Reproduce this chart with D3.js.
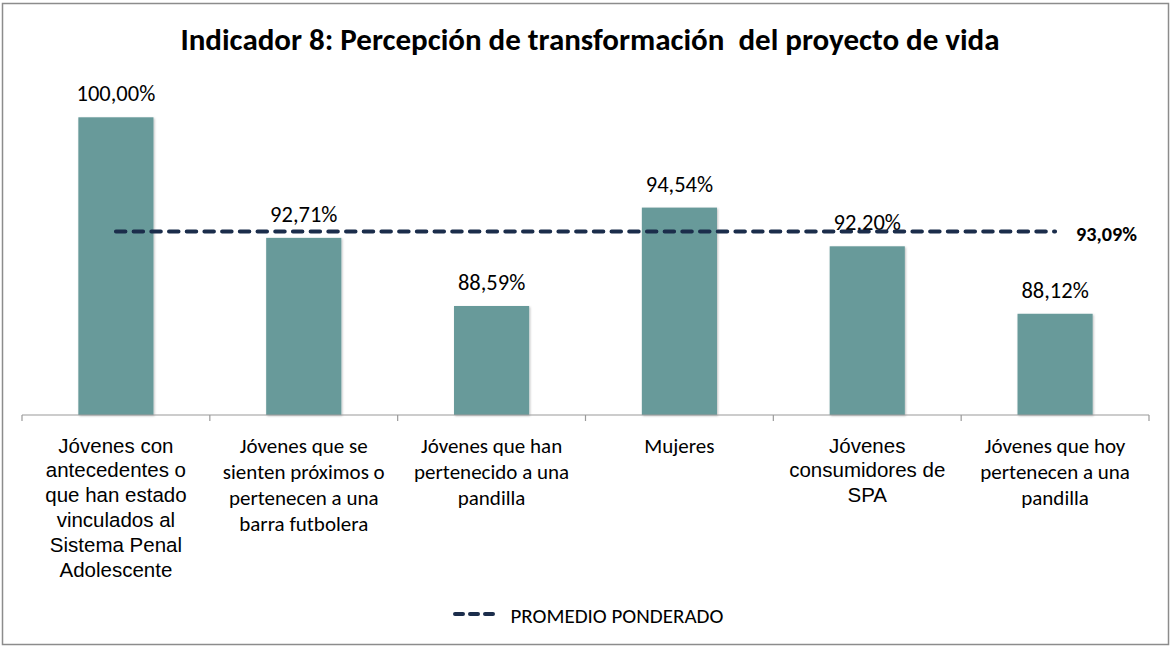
<!DOCTYPE html>
<html>
<head>
<meta charset="utf-8">
<script src="https://cdn.jsdelivr.net/npm/d3@7"></script>
<style>
  html, body { margin: 0; padding: 0; background: #fff; }
  svg { display: block; }
</style>
</head>
<body>
<svg id="chart" width="1171" height="648"></svg>
<script>
const title = "Indicador 8: Percepción de transformación  del proyecto de vida";
const categories = [
  "Jóvenes con\nantecedentes o\nque han estado\nvinculados al\nSistema Penal\nAdolescente",
  "Jóvenes que se\nsienten próximos o\npertenecen a una\nbarra futbolera",
  "Jóvenes que han\npertenecido a una\npandilla",
  "Mujeres",
  "Jóvenes\nconsumidores de\nSPA",
  "Jóvenes que hoy\npertenecen a una\npandilla"
];
const narrowLabel = [true, false, false, false, true, false];
const values = [100.00, 92.71, 88.59, 94.54, 92.20, 88.12];
const valueLabels = ["100,00%", "92,71%", "88,59%", "94,54%", "92,20%", "88,12%"];
const average = 93.09;
const averageLabel = "93,09%";
const legendLabel = "PROMEDIO PONDERADO";
const yDomain = [82, 100];

const svg = d3.select("#chart");
const calibri = "Carlito, Lato, 'Open Sans', sans-serif";
const arial = "'Liberation Sans', Arial, sans-serif";

// outer border
svg.append("rect").attr("x", 2.5).attr("y", 3.5).attr("width", 1166).attr("height", 641)
  .attr("fill", "#fff").attr("stroke", "#8c8c8c").attr("stroke-width", 1.5);

// title
svg.append("text").attr("x", 590).attr("y", 49.5).attr("text-anchor", "middle")
  .attr("font-family", calibri).attr("font-weight", "bold").attr("font-size", 31)
  .attr("fill", "#000").style("white-space", "pre").text(title);

const x = d3.scaleBand().domain(d3.range(categories.length)).range([22, 1149])
  .paddingInner(0.6).paddingOuter(0.3);
const y = d3.scaleLinear().domain(yDomain).range([415, 117.3]);

// shadow filter
const defs = svg.append("defs");
const f = defs.append("filter").attr("id", "sh").attr("x", "-10%").attr("y", "-10%").attr("width", "120%").attr("height", "120%");
f.append("feDropShadow").attr("dx", 1).attr("dy", 1).attr("stdDeviation", 1).attr("flood-color", "#000").attr("flood-opacity", 0.25);

// bars
svg.append("g").selectAll("rect").data(values).join("rect")
  .attr("x", (d, i) => x(i)).attr("width", x.bandwidth())
  .attr("y", d => y(d)).attr("height", d => y(yDomain[0]) - y(d))
  .attr("fill", "#679a9a").attr("filter", "url(#sh)");

// x axis line and ticks
const axisG = svg.append("g").attr("transform", `translate(0,${y(yDomain[0])})`);
axisG.append("line").attr("x1", 22).attr("x2", 1149).attr("stroke", "#9a9a9a").attr("stroke-width", 1.2);
const boundaries = d3.range(categories.length + 1).map(i => 22 + i * x.step());
axisG.selectAll("line.tick").data(boundaries).join("line").attr("class", "tick")
  .attr("x1", d => d).attr("x2", d => d).attr("y1", 0).attr("y2", 6)
  .attr("stroke", "#9a9a9a").attr("stroke-width", 1.2);

// value labels
svg.append("g").selectAll("text").data(values).join("text")
  .attr("x", (d, i) => x(i) + x.bandwidth() / 2).attr("y", d => y(d) - 16)
  .attr("text-anchor", "middle").attr("font-family", calibri).attr("font-size", 22.5)
  .attr("fill", "#000").text((d, i) => valueLabels[i]);

// category labels
categories.forEach((c, i) => {
  const t = svg.append("text").attr("text-anchor", "middle")
    .attr("font-family", narrowLabel[i] ? arial : calibri)
    .attr("font-size", narrowLabel[i] ? 20.5 : 21).attr("fill", "#000");
  const lh = narrowLabel[i] ? 24.8 : 26;
  c.split("\n").forEach((line, k) => {
    t.append("tspan").attr("x", x(i) + x.bandwidth() / 2).attr("y", 452.5 + k * lh).text(line);
  });
});

// average line
const xFirst = x(0) + x.bandwidth() / 2, xLast = x(categories.length - 1) + x.bandwidth() / 2;
svg.append("line").attr("x1", xFirst).attr("x2", xLast).attr("y1", y(average)).attr("y2", y(average))
  .attr("stroke", "#1b2d4b").attr("stroke-width", 4).attr("stroke-linecap", "round")
  .attr("stroke-dasharray", "9.5 8.2");
svg.append("text").attr("x", xLast + 21).attr("y", y(average) + 9.5)
  .attr("font-family", calibri).attr("font-weight", "bold").attr("font-size", 20.2)
  .attr("fill", "#000").text(averageLabel);

// legend
svg.append("line").attr("x1", 455).attr("x2", 497).attr("y1", 614).attr("y2", 614)
  .attr("stroke", "#1b2d4b").attr("stroke-width", 4).attr("stroke-linecap", "round")
  .attr("stroke-dasharray", "8 7");
svg.append("text").attr("x", 510.5).attr("y", 623).attr("font-family", calibri)
  .attr("font-size", 21).attr("fill", "#000").text(legendLabel);
</script>
</body>
</html>
